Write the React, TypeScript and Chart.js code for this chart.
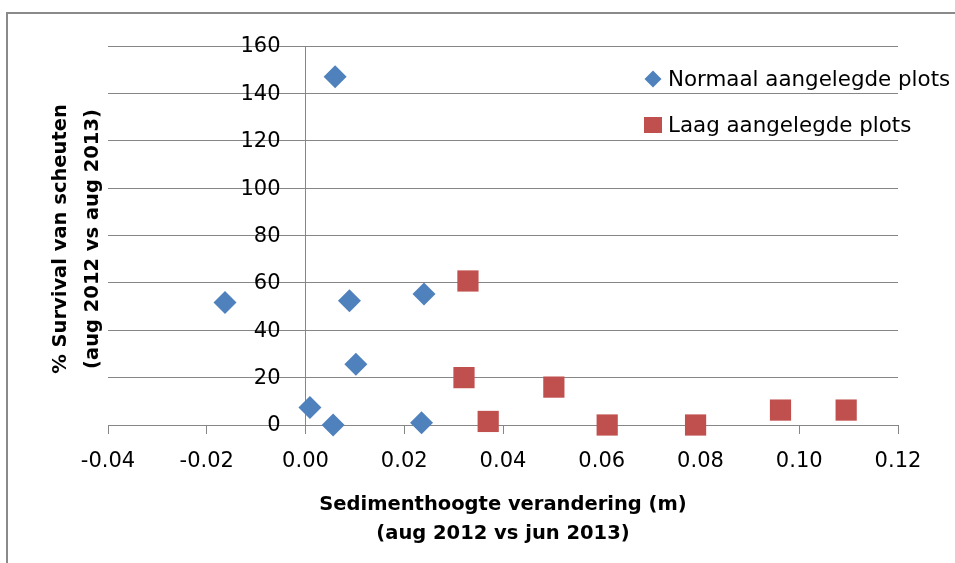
import React, { useEffect, useRef } from "react";
import { Chart, registerables } from "chart.js";

Chart.register(...registerables);

const normaalX = [-0.0163, 0.006, 0.0089, 0.024, 0.0102, 0.0009, 0.0056, 0.0235];
const normaalY = [51.7, 147.0, 52.5, 55.3, 25.6, 7.4, 0.0, 1.0];
const laagX = [0.0329, 0.0321, 0.037, 0.0503, 0.0611, 0.079, 0.0962, 0.1095];
const laagY = [60.8, 20.0, 1.5, 16.0, 0.0, 0.0, 6.3, 6.3];

const seriesNames = ["Normaal aangelegde plots", "Laag aangelegde plots"];
const seriesColors = ["#4F81BD", "#C0504D"];
const xTitle = ["Sedimenthoogte verandering (m)", "(aug 2012 vs jun 2013)"];
const yTitle = ["% Survival van scheuten", "(aug 2012 vs aug 2013)"];

const TICK_FONT = "DejaVu Sans";

const decorPlugin = {
  id: "decor",
  beforeDraw(chart: any) {
    const ctx = chart.ctx;
    ctx.save();
    ctx.fillStyle = "#ffffff";
    ctx.fillRect(0, 0, chart.width, chart.height);
    ctx.strokeStyle = "#8a8a8a";
    ctx.lineWidth = 2;
    ctx.beginPath();
    ctx.moveTo(7, chart.height + 5);
    ctx.lineTo(7, 13);
    ctx.lineTo(chart.width + 5, 13);
    ctx.stroke();
    ctx.restore();
  },
  afterDraw(chart: any) {
    const ctx = chart.ctx;
    const area = chart.chartArea;
    const xs = chart.scales.x;
    const ys = chart.scales.y;
    ctx.save();
    const axisX = xs.getPixelForValue(0);
    ctx.fillStyle = "#000";
    ctx.font = `21px '${TICK_FONT}'`;
    ctx.textAlign = "right";
    ctx.textBaseline = "middle";
    ys.ticks.forEach((t: any) => {
      ctx.fillText(String(t.value), axisX - 25, ys.getPixelForValue(t.value) + 1);
    });
    // X axis title
    ctx.font = "bold 19.5px 'DejaVu Sans'";
    ctx.textAlign = "center";
    ctx.textBaseline = "alphabetic";
    const cx = (area.left + area.right) / 2;
    ctx.fillText(xTitle[0], cx, 510);
    ctx.fillText(xTitle[1], cx, 539);
    // Y axis title
    ctx.save();
    ctx.translate(0, 239);
    ctx.rotate(-Math.PI / 2);
    ctx.font = "bold 19.5px 'DejaVu Sans'";
    ctx.textAlign = "center";
    ctx.textBaseline = "alphabetic";
    ctx.fillText(yTitle[0], 0, 66);
    ctx.fillText(yTitle[1], 0, 98);
    ctx.restore();
    // Legend
    const items = [
      { y: 79, style: "diamond" },
      { y: 125, style: "square" },
    ];
    items.forEach((it, i) => {
      ctx.fillStyle = seriesColors[i];
      const mx = 653;
      if (it.style === "diamond") {
        ctx.beginPath();
        ctx.moveTo(mx, it.y - 8.5);
        ctx.lineTo(mx + 8.5, it.y);
        ctx.lineTo(mx, it.y + 8.5);
        ctx.lineTo(mx - 8.5, it.y);
        ctx.closePath();
        ctx.fill();
      } else {
        ctx.fillRect(mx - 9, it.y - 8, 18, 16);
      }
      ctx.fillStyle = "#000";
      ctx.font = `21.4px '${TICK_FONT}'`;
      ctx.textAlign = "left";
      ctx.textBaseline = "middle";
      ctx.fillText(seriesNames[i], 668, it.y + 1);
    });
    ctx.restore();
  },
};

export default function App() {
  const canvasRef = useRef<HTMLCanvasElement | null>(null);

  useEffect(() => {
    const canvas = canvasRef.current;
    if (!canvas) return;
    const chart = new Chart(canvas, {
      type: "scatter",
      data: {
        datasets: [
          {
            label: seriesNames[0],
            data: normaalX.map((x, i) => ({ x, y: normaalY[i] })),
            pointStyle: "rectRot",
            pointRadius: 11.5,
            pointHoverRadius: 11.5,
            backgroundColor: seriesColors[0],
            borderColor: seriesColors[0],
            borderWidth: 0,
            clip: false,
          },
          {
            label: seriesNames[1],
            data: laagX.map((x, i) => ({ x, y: laagY[i] })),
            pointStyle: "rect",
            pointRadius: 15,
            pointHoverRadius: 15,
            backgroundColor: seriesColors[1],
            borderColor: seriesColors[1],
            borderWidth: 0,
            clip: false,
          },
        ],
      },
      options: {
        responsive: false,
        animation: false,
        events: [],
        layout: { padding: { left: 108, right: 57, top: 46, bottom: 138 } },
        plugins: {
          legend: { display: false },
          tooltip: { enabled: false },
          title: { display: false },
        },
        scales: {
          x: {
            type: "linear",
            position: { y: 0 } as any,
            min: -0.04,
            max: 0.12,
            ticks: {
              stepSize: 0.02,
              autoSkip: false,
              maxRotation: 0,
              padding: 16,
              color: "#000",
              font: { family: TICK_FONT, size: 21 },
              callback: (v: any) => Number(v).toFixed(2),
            },
            grid: {
              display: true,
              drawOnChartArea: false,
              drawTicks: true,
              tickLength: 8,
              color: "#868686",
              lineWidth: 1,
            },
            border: { display: true, color: "#868686", width: 1 },
          },
          y: {
            type: "linear",
            position: { x: 0 } as any,
            min: 0,
            max: 160,
            ticks: {
              stepSize: 20,
              display: false,
            },
            grid: {
              display: true,
              drawTicks: false,
              color: "#868686",
              lineWidth: 1,
            },
            border: { display: true, color: "#868686", width: 1 },
          },
        },
      },
      plugins: [decorPlugin],
    });
    return () => chart.destroy();
  }, []);

  return (
    <div style={{ position: "fixed", left: 0, top: 0, width: 955, height: 563, background: "#fff" }}>
      <canvas ref={canvasRef} width={955} height={563} style={{ display: "block" }} />
    </div>
  );
}
